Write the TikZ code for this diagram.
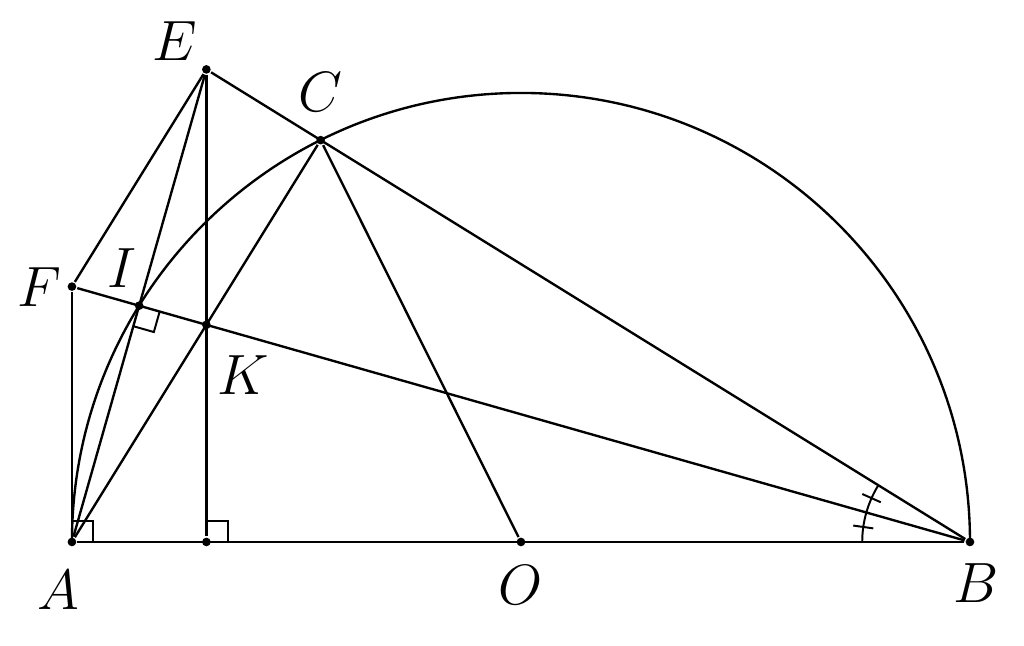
\documentclass[tikz,border=0pt]{standalone}
\usetikzlibrary{calc}
\tikzset{
  pt/.style={circle,fill,inner sep=0pt,minimum size=2.2pt},
  every label/.style={font=\Large,inner sep=1pt},
  rmark/.style={line width=0.5pt}
}
\begin{document}
\begin{tikzpicture}[line width=0.6pt]
            \useasboundingbox (-4.641,-0.9265) rectangle (4.481,4.828);
            \node[pt,label={[xshift=0.05cm,label distance=0.1cm]below:$B$}] (B) at (4,0){};
            \node[pt,label={[xshift=-0.125cm,label distance=0.16cm]below:$A$}] (A) at (-4,0){};
            \node[pt,label={[label distance=0.12cm]below:$O$}] (O) at (0,0){};
            \node[pt,label={[label distance=0.16cm]above:$C$}] (C) at (116.5:4){};
            \node[pt,label={[label distance=0cm]above left:$E$}] (E) at (-2.8024,4.2096){};
            \node[pt,label={[label distance=0cm]left:$F$}] (F) at (-4,2.2749){};
            \node[pt,label={[xshift=-0.15cm,label distance=0.07cm]above:$I$}] (I) at (-3.4012,2.1048){};
            \node[pt,label={[xshift=0.325cm,label distance=0.18cm]below:$K$}] (K) at (-2.8024,1.9343){};
            \node[pt] (H) at (-2.8024,0){};

            % half circle on AB
            \draw (B.center) arc (0:180:4);

            \path (A) edge (B);
            \path (A) edge (F);
            \path (F) edge (E);
            \path (E) edge (B);
            \path (E) edge (H);
            \path (A) edge (E);
            \path (A) edge (C);
            \path (C) edge (O);
            \path (F) edge (B);

            % right angles
            \draw[rmark,shift={(A)}] (0.19,0) -- (0.19,0.19) -- (0,0.19);
            \draw[rmark,shift={(H)}] (0.19,0) -- (0.19,0.19) -- (0,0.19);
            \draw[rmark,shift={(I)},rotate=-15.875] (0.19,0) -- (0.19,-0.19) -- (0,-0.19);

            % equal angles at B
            \draw[rmark,shift={(B)}] (180:0.96) arc (180:148.25:0.96);
            \draw[rmark,shift={(B)}] (172:0.87) -- (172:1.05);
            \draw[rmark,shift={(B)}] (156:0.87) -- (156:1.05);

        \end{tikzpicture}
\end{document}
